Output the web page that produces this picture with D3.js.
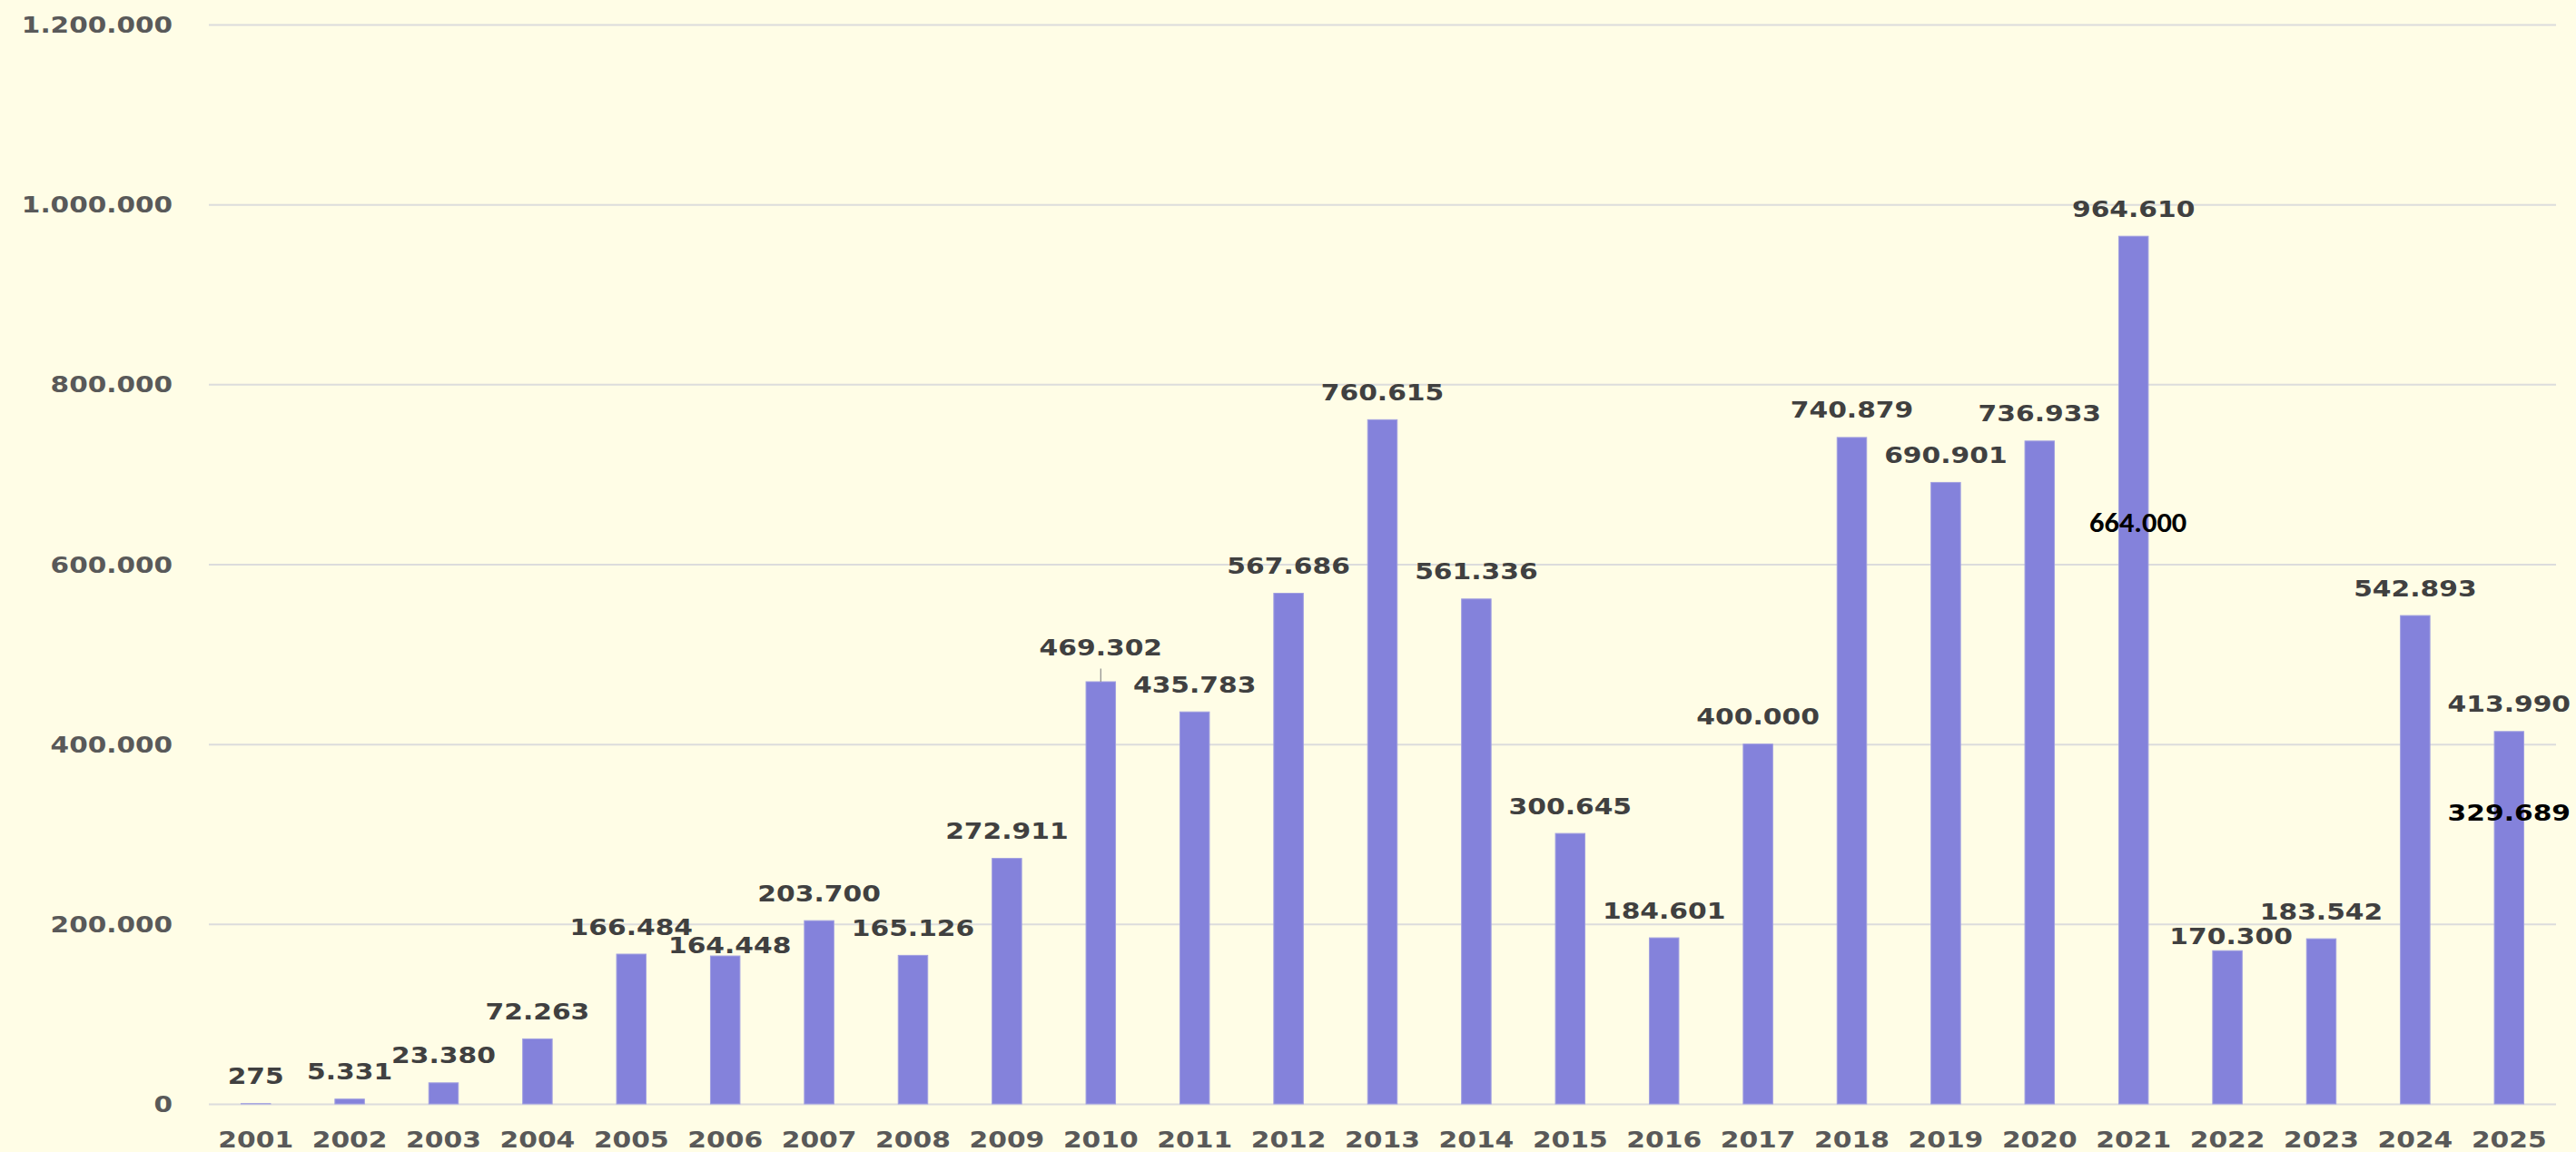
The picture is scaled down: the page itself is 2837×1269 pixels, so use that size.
<!DOCTYPE html>
<html>
<head>
<meta charset="utf-8">
<script src="https://cdn.jsdelivr.net/npm/d3@7"></script>
<style>
	html, body { margin: 0; padding: 0; background: #fffde6; }
	svg { display: block; }
</style>
</head>
<body>
<svg id="chart"></svg>
<script>
// data
const years = ['2001', '2002', '2003', '2004', '2005', '2006', '2007', '2008', '2009', '2010',
	'2011', '2012', '2013', '2014', '2015', '2016', '2017', '2018', '2019', '2020',
	'2021', '2022', '2023', '2024', '2025'];
const values = [275, 5331, 23380, 72263, 166484, 164448, 203700, 165126, 272911, 469302,
	435783, 567686, 760615, 561336, 300645, 184601, 400000, 740879, 690901, 736933,
	964610, 170300, 183542, 542893, 413990];
const yTicks = [0, 200000, 400000, 600000, 800000, 1000000, 1200000];
// the two black figures written on the 2021 and 2025 bars
const noteYears = ['2021', '2025'];
const noteValues = [664000, 329689];


class YearBarChart {

	/**
	* @param {string} chartSelector selector for the svg
	* @param {object} options overrides for the defaults
	*/
	constructor(chartSelector, options) {
		let defaults = {
			svgWidth: 2837,
			svgHeight: 1269,
			margin: { top: 27, left: 230, right: 22, bottom: 53 },
			barPadding: 0.686,
			barColor: '#8482db',
			gridColor: '#dcdcdc',
			axisTextColor: '#595959',
			labelColor: '#404040',
			stretch: 1.19,// the source text is drawn a bit wide
			labelGap: 21.5,
			// hand-moved labels: [dx, dy]
			labelNudges: { '2006': [5, 18], '2010': [0, -7], '2022': [4, 14] },
			noteNudges: { '2021': [5, 28], '2025': [0, 15] }
		};

		this.settings = Object.assign({}, defaults, options);
		this.chart = d3.select(chartSelector);
		this.fmt = d3.formatLocale({ decimal: ',', thousands: '.', grouping: [3], currency: ['', ''] }).format(',d');

		this.createChart();
	}


	/**
	* size the svg and make the inner group
	* @returns {undefined}
	*/
	_initChart() {
		let s = this.settings;
		this.width = s.svgWidth - s.margin.left - s.margin.right;
		this.height = s.svgHeight - s.margin.top - s.margin.bottom;

		this.chart.attr('width', s.svgWidth)
			.attr('height', s.svgHeight)
			.style('background', '#fffde6');

		this.g = this.chart.append('g')
			.attr('transform', 'translate(' + s.margin.left + ',' + s.margin.top + ')');
	};


	_createScales() {
		this.xScale = d3.scaleBand()
			.domain(years)
			.range([0, this.width])
			.paddingInner(this.settings.barPadding)
			.paddingOuter(this.settings.barPadding / 2);

		this.yScale = d3.scaleLinear()
			.domain([0, 1200000])
			.range([this.height, 0]);
	};


	/**
	* gridlines + value labels on the left, years below
	* @returns {undefined}
	*/
	_createAxes() {
		let s = this.settings;

		let yAxis = this.g.append('g')
			.attr('class', 'axis axis--y')
			.call(d3.axisLeft(this.yScale)
				.tickValues(yTicks)
				.tickFormat(this.fmt)
				.tickSize(-this.width));

		yAxis.select('.domain').remove();
		yAxis.selectAll('.tick line')
			.attr('stroke', s.gridColor)
			.attr('stroke-width', 2);
		yAxis.selectAll('.tick text')
			.attr('x', 0)
			.attr('dy', '0.36em')
			.attr('transform', 'translate(-40,0) scale(1.23,1)')
			.attr('fill', s.axisTextColor)
			.style('font-family', '"DejaVu Sans", Verdana, sans-serif')
			.style('font-weight', 'bold')
			.style('font-size', '24px');

		let xAxis = this.g.append('g')
			.attr('class', 'axis axis--x')
			.attr('transform', 'translate(0,' + this.height + ')')
			.call(d3.axisBottom(this.xScale).tickSize(0));

		xAxis.select('.domain').remove();
		xAxis.selectAll('.tick text')
			.attr('y', 0)
			.attr('dy', null)
			.attr('transform', 'translate(0,47.5) scale(' + s.stretch + ',1)')
			.attr('fill', s.axisTextColor)
			.style('font-family', '"DejaVu Sans", Verdana, sans-serif')
			.style('font-weight', 'bold')
			.style('font-size', '25px');
	};


	_addBars() {
		let data = years.map((y, i) => ({ year: y, value: values[i] }));

		this.g.append('g')
			.selectAll('.bar')
			.data(data)
			.enter()
			.append('rect')
			.attr('class', 'bar')
			.attr('x', (d) => this.xScale(d.year))
			.attr('width', this.xScale.bandwidth())
			.attr('y', (d) => this.yScale(d.value))
			.attr('height', (d) => this.height - this.yScale(d.value))
			.attr('fill', this.settings.barColor)
			.attr('stroke', '#a09fe0')
			.attr('stroke-width', 1);

		this.data = data;
	};


	/**
	* value labels above the bars, plus the leader line on 2010
	* @returns {undefined}
	*/
	_addLabels() {
		let s = this.settings,
			half = this.xScale.bandwidth() / 2;

		let pos = (d) => {
			let n = s.labelNudges[d.year] || [0, 0];
			return {
				x: this.xScale(d.year) + half + n[0],
				y: this.yScale(d.value) - s.labelGap + n[1]
			};
		};

		this.g.append('g')
			.selectAll('text')
			.data(this.data)
			.enter()
			.append('text')
			.attr('transform', (d) => {
				let p = pos(d);
				return 'translate(' + p.x + ',' + p.y + ') scale(' + s.stretch + ',1)';
			})
			.attr('text-anchor', 'middle')
			.attr('fill', s.labelColor)
			.style('font-family', '"DejaVu Sans", Verdana, sans-serif')
			.style('font-weight', 'bold')
			.style('font-size', '25px')
			.text((d) => this.fmt(d.value));

		// leader line for the label that was lifted
		let lifted = this.data.filter((d) => (s.labelNudges[d.year] || [0, 0])[1] < 0);
		this.g.append('g')
			.selectAll('line')
			.data(lifted)
			.enter()
			.append('line')
			.attr('x1', (d) => this.xScale(d.year) + half)
			.attr('x2', (d) => this.xScale(d.year) + half)
			.attr('y1', (d) => pos(d).y + 14)
			.attr('y2', (d) => this.yScale(d.value))
			.attr('stroke', '#8c8c8c')
			.attr('stroke-width', 1.2);
	};


	_addNotes() {
		let s = this.settings,
			half = this.xScale.bandwidth() / 2;

		noteYears.forEach((yr, i) => {
			let n = s.noteNudges[yr],
				x = this.xScale(yr) + half + n[0],
				y = this.yScale(noteValues[i]) + n[1];

			let t = this.g.append('text')
				.attr('text-anchor', 'middle')
				.attr('fill', '#000')
				.style('font-weight', 'bold')
				.text(this.fmt(noteValues[i]));

			if (i === 0) {
				t.attr('transform', 'translate(' + x + ',' + y + ') scale(1.08,1)')
					.style('font-family', 'Carlito, Lato, "Open Sans", sans-serif')
					.style('font-weight', '900')
					.style('font-size', '30px');
			} else {
				t.attr('transform', 'translate(' + x + ',' + y + ') scale(' + s.stretch + ',1)')
					.style('font-family', '"DejaVu Sans", Verdana, sans-serif')
					.style('font-size', '25px');
			}
		});
	};


	createChart() {
		this._initChart();
		this._createScales();
		this._createAxes();
		this._addBars();
		this._addLabels();
		this._addNotes();
	};

}

new YearBarChart('#chart', {});
</script>
</body>
</html>
